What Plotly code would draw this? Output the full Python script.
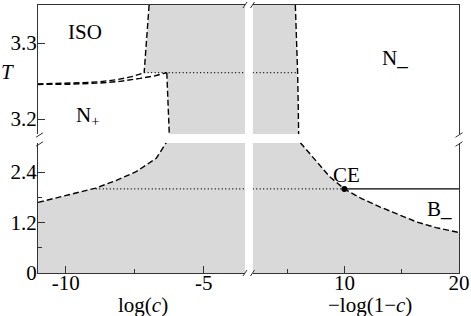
import plotly.graph_objects as go

# ---------------- axis ranges / ticks ----------------
logc_range = [-11, -3.5]
mlog_range = [2, 20]
t_low_range = [0, 3.1]
t_high_range = [3.18, 3.35]

logc_ticks = [-10, -5]
logc_ticktext = ["-10", "-5"]
logc_minor = [-7.5]
mlog_ticks = [10, 20]
mlog_minor = [5, 15]
t_low_ticks = [0, 1.2, 2.4]
t_low_ticktext = ["0", "1.2", "2.4"]
t_low_minor = [0.6, 1.8]
t_high_ticks = [3.2, 3.3]

# ---------------- data ----------------
# ISO / coexistence boundary (upper-left)
iso_logc = [-6.98, -7.07, -7.16]
iso_T = [3.35, 3.305, 3.261]
# ISO - N+ boundary, upper branch
isoN_up_logc = [-11.02, -10.22, -9.38, -8.76, -8.14, -7.56, -7.16]
isoN_up_T = [3.2463, 3.2467, 3.2478, 3.2492, 3.2518, 3.2562, 3.261]
# ISO - N+ boundary, lower branch
isoN_lo_logc = [-11.02, -9.85, -8.76, -8.03, -7.31, -6.76, -6.34]
isoN_lo_T = [3.2455, 3.2459, 3.2474, 3.2496, 3.2535, 3.2570, 3.261]
# N+ / coexistence vertical boundary
vert_logc = [-6.34, -6.30, -6.25]
vert_T = [3.261, 3.22, 3.18]
# triple temperature
T_triple = 3.261
triple_left_logc = [-7.16, -3.5]
triple_right_mlog = [2, 5.92]
# N- / coexistence boundary (upper-right)
nminus_mlog = [5.72, 5.85, 5.92, 5.96, 6.01]
nminus_T = [3.35, 3.30, 3.261, 3.23, 3.18]
# low-T boundary, left
low_left_logc = [-11.0, -9.85, -8.91, -8.18, -7.45, -6.72, -6.36]
low_left_T = [1.68, 1.86, 2.02, 2.20, 2.41, 2.73, 3.10]
# low-T boundary, right
low_right_mlog = [6.16, 6.68, 7.6, 8.72, 10.0, 11.5, 13.08, 16.28, 18.0, 20.0]
low_right_T = [3.10, 2.93, 2.63, 2.29, 2.00, 1.77, 1.575, 1.217, 1.08, 0.964]
# critical end point
ce_mlog = [10.0]
ce_T = [2.0]
T_ce = 2.0
ce_dot_left_logc = [-8.91, -3.5]
ce_dot_right_mlog = [2, 10.0]
ce_solid_mlog = [10.0, 20.0]

# ---------------- style ----------------
FONT = "Liberation Serif"
FS = 21
GREY = "#d9d9d9"
DASH = "6px,3px"
DOT = "1px,2.5px"
LW = 1.4

W, H = 471, 316
ML, MR, MT, MB = 38, 12, 5, 43
PW, PH = W - ML - MR, H - MT - MB


def px(x):
    return (x - ML) / PW


def py(y):
    return (H - MB - y) / PH


xL = [0, px(245.3)]
xR = [px(252.7), 1]
yLo = [0, py(142.7)]
yHi = [py(134.3), 1]

fig = go.Figure()


def fill(xs, ys, xa, ya):
    fig.add_trace(go.Scatter(x=xs, y=ys, xaxis=xa, yaxis=ya, mode="lines",
                             fill="toself", fillcolor=GREY, line=dict(width=0),
                             hoverinfo="skip", showlegend=False))


def line(xs, ys, xa, ya, dash=DASH, width=LW):
    fig.add_trace(go.Scatter(x=xs, y=ys, xaxis=xa, yaxis=ya, mode="lines",
                             line=dict(color="black", width=width, dash=dash),
                             hoverinfo="skip", showlegend=False))


# fills
fill(iso_logc + vert_logc + [logc_range[1], logc_range[1]],
     iso_T + vert_T + [t_high_range[0], t_high_range[1]], "x3", "y3")
fill([mlog_range[0]] + nminus_mlog + [mlog_range[0]],
     [t_high_range[1]] + nminus_T + [t_high_range[0]], "x4", "y4")
fill(low_left_logc + [logc_range[1], logc_range[1], logc_range[0]],
     low_left_T + [t_low_range[1], 0, 0], "x", "y")
fill([mlog_range[0]] + low_right_mlog + [mlog_range[1], mlog_range[0]],
     [t_low_range[1]] + low_right_T + [0, 0], "x2", "y2")

# lines upper
line(iso_logc, iso_T, "x3", "y3")
line(isoN_up_logc, isoN_up_T, "x3", "y3")
line(isoN_lo_logc, isoN_lo_T, "x3", "y3")
line(vert_logc, vert_T, "x3", "y3")
line(triple_left_logc, [T_triple] * 2, "x3", "y3", dash=DOT, width=1.2)
line(triple_right_mlog, [T_triple] * 2, "x4", "y4", dash=DOT, width=1.2)
line(nminus_mlog, nminus_T, "x4", "y4")
# lines lower
line(ce_dot_left_logc, [T_ce] * 2, "x", "y", dash=DOT, width=1.2)
line(ce_dot_right_mlog, [T_ce] * 2, "x2", "y2", dash=DOT, width=1.2)
line(ce_solid_mlog, [T_ce] * 2, "x2", "y2", dash="solid", width=1.2)
line(low_left_logc, low_left_T, "x", "y")
line(low_right_mlog, low_right_T, "x2", "y2")
fig.add_trace(go.Scatter(x=ce_mlog, y=ce_T, xaxis="x2", yaxis="y2", mode="markers",
                         marker=dict(color="black", size=6), hoverinfo="skip",
                         showlegend=False))

ax_common = dict(showgrid=False, zeroline=False, showline=True, linecolor="#333",
                 linewidth=1, tickcolor="#333",
                 tickfont=dict(family=FONT, size=FS, color="black"), mirror=False)

fig.update_layout(
    width=W, height=H, margin=dict(l=ML, r=MR, t=MT, b=MB, autoexpand=False),
    paper_bgcolor="white", plot_bgcolor="white", showlegend=False,
    font=dict(family=FONT, size=FS, color="black"),
    xaxis=dict(domain=xL, range=logc_range, anchor="y", side="bottom",
               tickmode="array", tickvals=logc_ticks, ticktext=logc_ticktext,
               ticks="inside", ticklen=7, ticklabelstandoff=-9,
               minor=dict(tickvals=logc_minor, ticks="inside", ticklen=4, tickcolor="#333"),
               **ax_common),
    yaxis=dict(domain=yLo, range=t_low_range, anchor="x", side="left",
               tickmode="array", tickvals=t_low_ticks, ticktext=t_low_ticktext,
               ticks="inside", ticklen=7, ticklabelstandoff=-4,
               minor=dict(tickvals=t_low_minor, ticks="inside", ticklen=4, tickcolor="#333"),
               **ax_common),
    xaxis2=dict(domain=xR, range=mlog_range, anchor="y2", side="bottom",
                tickmode="array", tickvals=mlog_ticks,
                ticks="inside", ticklen=7, ticklabelstandoff=-9,
                minor=dict(tickvals=mlog_minor, ticks="inside", ticklen=4, tickcolor="#333"),
                **ax_common),
    yaxis2=dict(domain=yLo, range=t_low_range, anchor="x2", side="right",
                ticks="", showticklabels=False, **ax_common),
    xaxis3=dict(domain=xL, range=logc_range, anchor="y3", side="top",
                ticks="", showticklabels=False, **ax_common),
    yaxis3=dict(domain=yHi, range=t_high_range, anchor="x3", side="left",
                tickmode="array", tickvals=t_high_ticks,
                ticks="inside", ticklen=7, ticklabelstandoff=-4, **ax_common),
    xaxis4=dict(domain=xR, range=mlog_range, anchor="y4", side="top",
                ticks="", showticklabels=False, **ax_common),
    yaxis4=dict(domain=yHi, range=t_high_range, anchor="x4", side="right",
                ticks="", showticklabels=False, **ax_common),
)


# break marks (decoration)
def slash(cx, cy, w, h):
    fig.add_shape(type="line", xref="paper", yref="paper",
                  x0=px(cx - w / 2), y0=py(cy + h / 2), x1=px(cx + w / 2), y1=py(cy - h / 2),
                  line=dict(color="#333", width=1))


for cy in (135, 144):
    slash(39.5, cy, 7, 4.5)
    slash(459, cy, 7, 4.5)
for cx in (245, 252.5):
    slash(cx, 273, 4, 6)
    slash(cx, 5, 4, 6)

ann = dict(showarrow=False, xanchor="center", yanchor="middle",
           font=dict(family=FONT, size=FS, color="black"))
fig.add_annotation(text="ISO", x=-9.31, y=3.314, xref="x3", yref="y3", **ann)
fig.add_annotation(text="N<sub>+</sub>", x=-9.2, y=3.204, xref="x3", yref="y3", **ann)
fig.add_annotation(text="N_", x=14.39, y=3.28, xref="x4", yref="y4", **ann)
fig.add_annotation(text="B_", x=18.32, y=1.52, xref="x2", yref="y2", **ann)
fig.add_annotation(text="CE", x=10.16, y=2.34, xref="x2", yref="y2", **ann)
fig.add_annotation(text="<i>T</i>", x=px(7), y=py(72), xref="paper", yref="paper", **ann)
fig.add_annotation(text="log(<i>c</i>)", x=px(142.5), y=py(305), xref="paper", yref="paper", **ann)
fig.add_annotation(text="\u2212log(1\u2212<i>c</i>)", x=px(370), y=py(305),
                   xref="paper", yref="paper", **ann)

fig.write_html("out.html", config={"displayModeBar": False},
               post_script="document.body.style.margin='0';document.body.style.overflow='hidden';")
